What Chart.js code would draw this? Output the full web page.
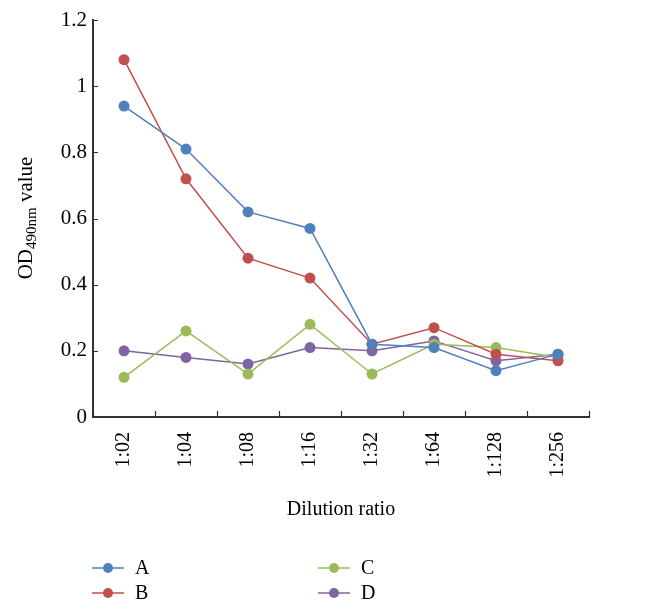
<!DOCTYPE html>
<html>
<head>
<meta charset="utf-8">
<script src="https://cdn.jsdelivr.net/npm/chart.js@4"></script>
<style>
  body { margin: 0; background: #fff; }
  #wrap { width: 660px; height: 615px; position: relative; }
</style>
</head>
<body>
<div id="wrap"><canvas id="chart"></canvas></div>
<script>
const dilutions = ['1:02', '1:04', '1:08', '1:16', '1:32', '1:64', '1:128', '1:256'];
const seriesA = [0.94, 0.81, 0.62, 0.57, 0.22, 0.21, 0.14, 0.19];
const seriesB = [1.08, 0.72, 0.48, 0.42, 0.22, 0.27, 0.19, 0.17];
const seriesC = [0.12, 0.26, 0.13, 0.28, 0.13, 0.22, 0.21, 0.18];
const seriesD = [0.20, 0.18, 0.16, 0.21, 0.20, 0.23, 0.17, 0.19];
const yTicks = [0, 0.2, 0.4, 0.6, 0.8, 1, 1.2];

const FONT = "'Liberation Serif', 'DejaVu Serif', serif";
const AXIS = '#333333';

function line(label, data, color) {
  return {
    label: label,
    data: data,
    borderColor: color,
    backgroundColor: color,
    borderWidth: 1.5,
    pointRadius: 5.5,
    pointHoverRadius: 5.5,
    pointBorderWidth: 0,
    tension: 0
  };
}

// inward tick marks, y title with subscript, two-column legend
const decorations = {
  id: 'decorations',
  afterDraw(chart) {
    const ctx = chart.ctx;
    const x = chart.scales.x, y = chart.scales.y;
    const area = chart.chartArea;
    ctx.save();
    ctx.strokeStyle = AXIS;
    ctx.lineWidth = 1.2;
    ctx.beginPath();
    for (let i = 0; i <= dilutions.length; i++) {
      const px = Math.round(x.getPixelForValue(i - 0.5)) + 0.5;
      ctx.moveTo(px, area.bottom);
      ctx.lineTo(px, area.bottom - 6);
    }
    yTicks.forEach(v => {
      const py = Math.round(y.getPixelForValue(v)) + 0.5;
      ctx.moveTo(area.left, py);
      ctx.lineTo(area.left + 5, py);
    });
    ctx.stroke();

    // y axis title: OD490nm value
    ctx.fillStyle = '#000';
    ctx.textBaseline = 'alphabetic';
    ctx.textAlign = 'left';
    const big = '21px ' + FONT, small = '15px ' + FONT;
    const parts = [['OD', big, 0], ['490nm', small, 4], [' value', big, 0]];
    let total = 0;
    parts.forEach(p => { ctx.font = p[1]; total += ctx.measureText(p[0]).width; });
    ctx.translate(32, 218);
    ctx.rotate(-Math.PI / 2);
    let cx = -total / 2;
    parts.forEach(p => {
      ctx.font = p[1];
      ctx.fillText(p[0], cx, p[2]);
      cx += ctx.measureText(p[0]).width;
    });
    ctx.setTransform(1, 0, 0, 1, 0, 0);

    // legend
    const cols = [92, 318], rows = [568, 593];
    ctx.font = '20px ' + FONT;
    ctx.textBaseline = 'middle';
    chart.data.datasets.forEach((ds, i) => {
      const lx = cols[Math.floor(i / 2)], ly = rows[i % 2];
      ctx.strokeStyle = ds.borderColor;
      ctx.lineWidth = 1.5;
      ctx.beginPath();
      ctx.moveTo(lx, ly);
      ctx.lineTo(lx + 32, ly);
      ctx.stroke();
      ctx.fillStyle = ds.backgroundColor;
      ctx.beginPath();
      ctx.arc(lx + 16, ly, 5, 0, Math.PI * 2);
      ctx.fill();
      ctx.fillStyle = '#000';
      ctx.fillText(ds.label, lx + 43, ly + 1);
    });
    ctx.restore();
  }
};

new Chart(document.getElementById('chart'), {
  type: 'line',
  data: {
    labels: dilutions,
    datasets: [
      line('A', seriesA, '#4F81BD'),
      line('B', seriesB, '#C0504D'),
      line('C', seriesC, '#9BBB59'),
      line('D', seriesD, '#8064A2')
    ]
  },
  options: {
    responsive: true,
    maintainAspectRatio: false,
    animation: false,
    layout: { padding: { top: 20, right: 71, bottom: 93, left: 0 } },
    plugins: {
      legend: { display: false },
      tooltip: { enabled: false }
    },
    scales: {
      x: {
        offset: true,
        grid: { display: false, drawTicks: false, offset: true },
        border: { display: true, color: AXIS, width: 2 },
        ticks: {
          autoSkip: false,
          minRotation: 90,
          maxRotation: 90,
          padding: 15,
          color: '#000',
          font: { family: FONT, size: 20 }
        },
        title: {
          display: true,
          text: 'Dilution ratio',
          color: '#000',
          padding: 0,
          font: { family: FONT, size: 20 }
        },
        afterFit(scale) { scale.height = 105; }
      },
      y: {
        min: 0,
        max: 1.2,
        grid: { display: false, drawTicks: false },
        border: { display: true, color: AXIS, width: 2 },
        afterBuildTicks(scale) { scale.ticks = yTicks.map(v => ({ value: v })); },
        ticks: {
          padding: 6,
          color: '#000',
          font: { family: FONT, size: 21 },
          callback: v => String(v)
        },
        afterFit(scale) { scale.width = 93; }
      }
    }
  },
  plugins: [decorations]
});
</script>
</body>
</html>
